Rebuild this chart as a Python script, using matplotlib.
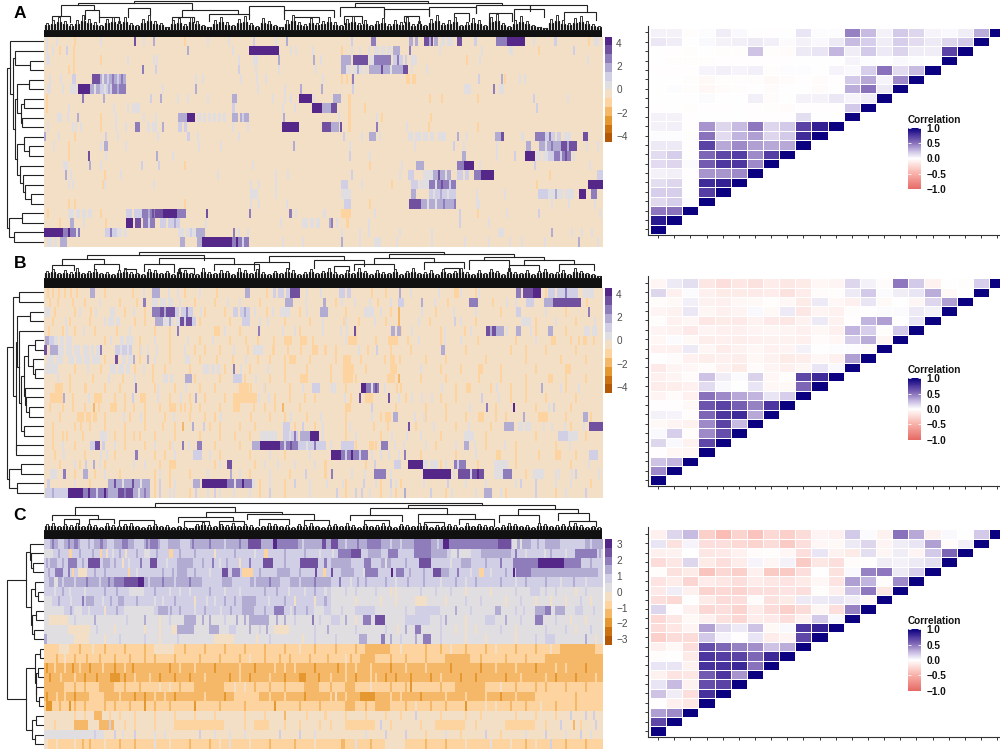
import matplotlib
matplotlib.use("Agg")
import matplotlib.pyplot as plt
from matplotlib.cm import ScalarMappable
from matplotlib.colors import BoundaryNorm, LinearSegmentedColormap, ListedColormap, Normalize
import numpy as np

plt.rcParams['font.family'] = ['Liberation Sans', 'DejaVu Sans']

W, H = 1000, 751
N_COLS = 558
N_ROWS = 22

# heatmap levels: 0 is the beige bin just under zero, 1..6 purple, -1..-5 orange
heat_colors = ['#b35806', '#cc7213', '#e59730', '#f5b868', '#fdd3a0', '#f3dec6',
               '#e0dee0', '#d0cfe6', '#b2abd2', '#8f7dbb', '#70509f', '#542788']

A_rows = [
    "2:1 12:1 30:-1 56:1 90:5 99:1 109:3 140:-1 163:1 184:1 209:2 231:1 242:3 306:2 326-331:4 364-373:3 379-388:5 389-393:3 396-408:1 412-417:5 429-432:2 451-462:4 462-480:6 488:1 509-512:2 543:-1 549-554:1 368:0 384:3 400:0",
    "2:1 8:1 15:-1 22:2 29:-1 143:3 188:1 205-235:6 246:1 251:1 268:1 296:-1 306:1 314:1 323:1 329-346:1 348-355:3 364:4 394:1 436:1 464-468:1 493:-1 528:2 334:0 340:0",
    "2-6:1 29:-1 56:-1 83:1 109:1 112:1 194:1 209-214:1 234:3 269:3 276:1 296-306:3 308-323:5 324-329:1 329-346:4 348-362:2 366-372:1 421:-1 434:1 542-544:1 352:4 358:0",
    "24:-1 29:-1 98:4 111:2 194:2 211:1 234-236:1 271:1 296-301:3 301-306:1 308-322:1 324-351:3 351-358:3 358-363:5 366:1 381:1 312:3 318:0 336:5 345:1",
    "5-7:1 16:1 28-32:2 48-56:5 56-82:3 151:1 158:1 196:1 212:1 221:1 278:1 296:-1 301:-1 306:-1 307:4 361-365:-1 367-371:-1 433:2 456:3 459:-1 474:1 479:1 58:1 63:2 68:4 73:2 77:4",
    "3-7:1 18:1 26-33:1 34-46:6 46-56:3 56-68:2 68-82:4 118:1 151:3 213:1 240:1 256:3 277:3 307:2 419-426:1 448:4 454-459:1 50:1 60:1 64:3 73:3",
    "2:-1 38:4 59:3 106:2 116:3 133:1 143:1 163:1 188-193:3 228:1 240:1 246:1 255-268:6 269:1 288-296:3 303-306:-1 384:-1 396:-1 432:-1 488:2 522:1",
    "2:-1 24:1 69:1 83:1 88-96:1 188-191:2 238:1 250:1 268-278:6 278-286:3 286-292:5 303-306:-1 319:-1 491:2",
    "13-18:1 23:1 33:3 56:-1 71:1 99:1 111:1 134-143:3 143-151:6 153-182:1 188-205:3 239-241:3 293-295:1 303-306:-1 331:1 336:-1 385:-1 157:0 162:0 167:0 172:0 177:0 194:0 198:2",
    "3:1 28:1 31:1 36:1 56:-1 71:1 81:1 91-96:4 103-113:1 118:3 134-143:2 188:1 203:1 238-255:6 278-286:5 286-294:3 295:5 303-306:-1 331:4 361:1 383:-1 432:-1 106:0 138:0",
    "0:3 14:1 30:-1 61:2 73:1 113:1 143-146:2 153:1 194-196:1 298-300:2 316:1 324-331:3 334:1 363-389:1 393-401:1 412:3 421:1 450-456:3 456-459:5 476-479:1 490-500:4 500-516:2 519-526:1 538-543:5 368:0 376:0 383:0 504:4 510:0",
    "9:1 24:-1 56:1 60-64:3 81:1 154:1 176:1 249:3 304:1 369:1 408:2 418:1 451:1 481-486:3 494-516:3 516-532:5 541:1 552:1 500:1 506:4 522:3",
    "24:-1 44:5 61:1 112:3 128:1 304:2 324:1 417-421:3 451:1 469:2 480-490:6 491-503:1 503-509:2 509-526:4 528:1 496:0 515:2 520:5",
    "19-24:1 45:3 56:1 97:2 114:2 140:-1 208:1 324:-1 356:1 371-379:3 412-419:4 419-429:6 434:1 489:2 544:1",
    "21:3 26:1 60:-1 76:1 173:1 231:1 243:1 306:2 354:1 363-369:2 378-388:1 388-406:3 412-424:2 429-436:4 436-449:6 504:-1 552-558:2 393:5 400:1 418:0",
    "24:1 28:1 58:-1 60:1 109:1 206:1 214:1 231:1 296-303:2 316:1 346:-1 366-373:2 374-384:1 384-411:4 491:-1 543-558:6 390:1 396:5 404:2",
    "206-214:1 231:1 296-306:1 366-371:3 384-411:2 431:1 459:1 493-503:2 503-529:1 534-541:6 546-552:4 388:1 395:3 402:1 510:3 518:0",
    "24:-1 30:-1 140:-1 206:1 214:1 242:1 299-306:2 324:-1 364-376:5 376-409:3 409:4 431-435:1 506:1 523:1 549:1 382:1 390:1 398:4",
    "3:-1 24-48:1 56:-1 82-98:2 98-111:4 111-119:5 119-133:6 133-142:4 162:5 205:4 245-248:4 251:1 279:1 296-306:-1 329:1 414:2 432:-1 461:1 493:2 554:1 30:0 36:0 42:0 88:0 104:3 108:5",
    "15:-1 26-30:3 39:1 61:-1 82-89:6 91-97:5 99-111:4 116-136:2 161:1 236:1 258-276:1 284:3 286:4 291:1 301-304:-1 323:1 414:2 443:1 104:2 122:0 130:3 264:0 270:0",
    "0-19:6 19-36:4 61-73:2 73-83:1 134-152:1 152-161:3 189:4 194:1 203:1 296:1 314:1 323:1 354:1 386:1 453-459:1 506:3 526:1 536:1 546:1 24:6 32:1 66:4 78:0 140:0 146:2",
    "3-13:1 16-23:3 136-141:3 153-158:3 158-188:6 188-205:4 238:1 258:1 296:3 314:1 329-336:1 351:1 386:1 419:1 443:1 464:1 476:1 499:1 533:3 552:1 8:0 192:6 198:2",
]

# thin light orange columns of panel B, typed apart from the purple blocks
B_orange = [
    "3:-1 8:-1 14:-1 20:-1 26:-1 32:-1 60:-1 88:-1 140:-1 172:-1 222:-1 300:-1 340:-1 430:-1 500:-1 155:1 262:1 365:1 415:1 545:1",
    "5:-1 13:-1 28:-1 40:-1 75:-1 92:-1 150:-1 170:-1 215:-1 290:-1 332:-1 402:-1 447:-1 541:-1 55:1 135:1 195:1 345:1 470:1",
    "10:-1 30:-1 46:-1 80:-1 100:-1 160:-1 180:-1 222:-1 255:-1 300:-1 345:-1 390:-1 455:-1 520:-1 35:1 210:1 262:1 335:1 430:1 500:1",
    "8:-1 25:-1 45:-1 90:-1 100:-1 155:-1 185:-1 240:-1 265:-1 340:-1 384:-1 430:-1 490:-1 530:-1 60:1 215:1 300:1 415:1 510:1",
    "4:-1 18:-1 30:-1 50:-1 72:-1 110:-1 125:-1 170-176:-1 195:-1 255:-1 310:-1 355:-1 395:-1 490:-1 520:-1 22:1 85:1 180:1 250:1 295:1 425:1 485:1",
    "60:-1 95:-1 125:-1 155:-1 185:-1 240-248:-1 268:-1 330:-1 362:-1 395:-1 432:-1 470:-1 525:-1 548:-1 110:1 168:1 300:1 415:1 490:1 533:-1 540:-1",
    "95:-1 125:-1 150:-1 175:-1 228:-1 268-274:-1 290:-1 345:-1 365:-1 420:-1 465:-1 500:-1 530:-1 112:1 140:1 160:-1 243:-1 280:-1 322:-1 480:-1",
    "60:-1 95:-1 125:-1 172:-1 225:-1 245-252:-1 265:-1 315:-1 345-350:-1 400:-1 440:-1 480:-1 540:-1 110:1 155:-1 188:-1 240:-1 290:-1 380:-1 515:-1",
    "30:-1 56:-1 90:-1 120:-1 145:-1 205:-1 240:-1 262:-1 320:-1 345-352:-1 395:-1 455:-1 520-526:-1 108:-1 180:-1 285:-1 415:-1 490:-1",
    "25:-1 48:-1 78:-1 108:-1 150:-1 175:-1 225:-1 258-264:-1 310:-1 342-350:-1 400:-1 455:-1 520:-1 90:1 200:-1 240:-1 285:-1 375:-1 480:-1 540:-1",
    "25:-1 60:-1 75:-1 110:-1 130:-1 170:-1 195-205:-1 220:-1 270:-1 300:-1 355:-1 445:-1 480:-1 520:-1 40:-1 155:-1 245:-1 410:-1 465:-1 515:1",
    "28:-1 50-58:-1 80:-1 96-102:-1 125:-1 160:-1 230:-1 270:-1 305:-1 360:-1 410:-1 465:-1 500:-1 70:-1 145:-1 180:-1 245:-1 260:-1 395:-1 480:-1 530:-1",
    "5:-1 28:-1 54:-1 80:-1 100:-1 125-132:-1 155:-1 175:-1 220:-1 255:-1 300-306:-1 350:-1 400:-1 490:-1 40:-1 115:-1 140:-1 230:-1 380:-1 450:-1 525:-1",
    "15:-1 60:-1 85:-1 100:-1 145:-1 170:-1 225:-1 262:-1 300:-1 340-346:-1 380:-1 420:-1 460:-1 520:-1 120:-1 160:-1 240:-1 335:-1 400:-1 450:-1 545:-1",
    "8:-1 30:-1 60:-1 80:-1 100:-1 118:-1 175:-1 195:-1 250:-1 300:-1 342:-1 410:-1 480:-1 525:-1 45:-1 130:-1 165:-1 210:-1 270:-1 370:-1 445:-1",
    "8:-1 18:-1 38:-1 80:-1 110:-1 130:-1 175:-1 205:-1 300:-1 335:-1 395:-1 440:-1 490:-1 540:-1 22:-1 70:-1 95:-1 155:-1 190:-1 310:1 375:1",
    "8:-1 30:-1 80:-1 100:-1 125:-1 170:-1 195:-1 310:-1 330:-1 390:-1 440:-1 470:-1 510:-1 70:1 110:1 128:1 260:1 285:1 380:1 410:1",
    "10:-1 40:-1 70:-1 110:-1 120:-1 175:-1 205:-1 240:-1 335:-1 375:-1 410:-1 470:-1 510-516:-1 530:-1 62:1 130:1 165:1 225:1 265:1 335:1 430:1",
    "15:-1 35:-1 60:-1 115:-1 125-132:-1 170:-1 210:-1 280:-1 320:-1 395:-1 432:-1 470:-1 525:-1 30:1 55:1 100:1 175:1 220:1 250:1 270:1 400:1",
    "30:-1 50:-1 75:-1 110:-1 125:-1 145:-1 205:-1 245:-1 280:-1 345:-1 395:-1 480:-1 530:-1 20:1 60:1 115:1 195:1 225:1 345:1 510:1 530:2",
    "45:-1 110:-1 125:-1 215:-1 240:-1 300:-1 335:-1 355:-1 470:-1 510:-1 545:-1 30:1 115:2 130:1 225:1 250:2 265:1 330:1 345:2 420:1 470:1 490:2 525:1",
    "110:-1 125:-1 145:-1 215:-1 240:-1 300:-1 335:-1 350:-1 400:-1 460:-1 510:-1 115:2 125:1 170:2 175:1 205:1 225:2 265:1 310:2 345:1 385:2 430:1 455:1 490:2 520:1",
]

B_rows = [
    "46-51:3 99:1 108-116:3 124:1 133:1 201-206:3 229-246:2 246-256:5 276:1 294-306:2 326:-1 354:3 393:1 409-414:-1 433:1 471-476:4 478-488:5 488-496:6 503-533:2 538-549:1 232:0 240:0 300:0 510:0 520:4",
    "99-102:4 108-129:1 183:1 241-249:3 261:1 279:3 296:1 309:1 324:1 353-359:2 376:3 389:1 424-433:4 461:1 481-489:2 499-508:3 508-536:5 114:0 122:0",
    "1-6:1 51:1 66-71:1 89:1 108-116:4 116-131:5 131-149:2 156:1 189-206:2 228:1 236-246:1 276-283:3 319-329:1 353:-2 376:1 408:1 471-476:2 543:4 120:3 135:0 142:4 194:0 200:3",
    "21:1 64-76:1 111-119:3 119-136:1 136-148:5 148-152:2 198-206:2 223:1 278:1 298:-1 313:-1 329:1 353:-2 373:1 409:2 476-486:1 549:1 70:0 125:3 130:0 140:2",
    "39:1 133:4 214:4 238:1 278:1 301:1 309:5 346-356:3 366:1 399:1 419:-1 441-451:5 451-459:3 461:1 471-476:3 503-508:3 539-552:1 350:0 445:3 545:0",
    "1-5:3 5-10:2 10-28:1 66:1 76-89:1 143:1 201:-1 213:-1 229:-1 256-263:-1 303-312:-1 343-353:-1 373:1 399:1 506-511:-1 538:-1 14:0 20:0 80:0",
    "0-3:5 6-14:3 14-36:1 39-56:1 56:4 71-88:2 96:1 103:1 189:1 203:-1 209-219:1 229:-1 256:-1 313:1 331:2 396-400:3 20:0 28:0 45:0 50:0 76:1 83:1",
    "3-19:1 24-56:1 71-74:5 78-88:1 89:3 103:3 141-146:1 201:1 213:-1 298-306:-1 339:-1 354:-1 10:0 30:0 38:0 46:0 82:0",
    "1-14:1 43:1 66-86:1 99:1 159-176:1 189:4 196:1 223:1 298-309:-1 375:1 433-438:-1 72:0 80:0 165:0 171:0",
    "13:1 64:1 119-129:1 141-148:3 189-198:2 211:1 256:-1 298-308:-1 353:-2 433:-1 503-508:-1 124:0",
    "11-19:-1 41:-1 91:4 113:1 141:1 206:-1 219:1 258:1 268-276:2 286-291:1 316-321:6 321-334:4 339:1 351:-1 396:1 421-426:-1 451:1 496:3 533:1 326:1 330:5",
    "6-19:-1 19:3 44:1 88:2 113:1 136:1 151:3 189-213:-1 214:1 224:1 299:1 314:5 320-328:-1 343:5 353:1 366:1 376:1 386:1 436:2 453:1",
    "18:-1 49:-2 66-73:-1 89:-1 136:-1 146:-1 189-196:-1 209:-1 238:-2 326:2 424:1 441:4 468:6 503:1 508:2",
    "33-53:-1 79:1 96:1 129:1 176:1 206:-1 246:1 276:1 326:1 348-353:3 369:1 378:1 433-439:-1 478:3 493-503:-1 538-543:3 40:0 47:0",
    "36:-1 138:-2 148:3 159:2 239-246:2 258:2 278:1 304:1 328:-1 363:5 388:1 423:1 459-469:3 473-486:1 498:1 506:1 519:1 538:1 544-558:5 478:0",
    "56-63:1 89:-1 216-233:1 239-254:2 256-266:3 266-275:6 278:1 346:1 361:1 419-429:1 513-523:2 523-533:1 245:1 250:4",
    "18:1 46-51:2 51-56:5 58-61:2 138:4 144:1 153-158:4 208-216:3 216-236:6 236-254:4 254-281:2 296-309:2 324-329:-1 336-343:4 349:1 358:1 419-424:3 429:1 459:1 524:1 240:2 246:5 262:1 270:4",
    "19:1 56:1 91-94:4 149-158:2 286-296:6 296-323:4 326:1 343:1 353:1 359:4 451-456:-1 493:-1 544-553:2 300:2 306:6 314:2",
    "41:2 49:3 89:1 183-188:5 233:1 329:2 349-356:2 363-378:6 378-393:1 409-421:4 449-463:1 543:1 383:0 412:2",
    "6-13:1 19-22:4 39-44:3 163:1 186:3 261:2 286:4 306:1 319:1 329-341:4 378-406:6 413-439:5 449-458:1 458-467:4 488-499:1 513:1 526:1 553:1 408:1 425:2 432:6",
    "3-6:2 64-106:3 149-156:3 158-183:6 183-208:4 208-211:1 281:1 297:1 318:2 350:1 378:1 402:2 440:1 475:2 510:1 70:5 78:1 88:5 96:1 190:1 198:6",
    "1-24:2 24-39:6 39-64:4 64-74:3 74-89:5 89-106:3 129:1 151:2 163:1 189:1 291:2 316:2 324:1 359:3 406:1 439-447:3 520:1 540:2 8:3 44:6 52:2 60:6 80:4 94:1 100:4",
]

C_base = [3, 2, 2, 2, 3, 2, 2, 2, 1, 1, 1, -1, -1, -2, -2, -1, -2, -1, 0, 0, 0, -1]
C_rows = [
    "0-6:2 14-20:2 30-34:4 36-50:2 56-59:4 63-70:2 78-84:4 90-100:2 106-114:4 116-124:2 136-146:2 204-217:5 229-233:6 233-254:4 278-281:5 286-293:5 322-336:4 369-386:4 398-404:6 404-466:4 453-466:5 467-472:1 486-500:2 515-540:2 552-558:3",
    "0-9:1 25-28:-1 56:-1 62:0 81:0 100-106:1 125-129:-1 170:0 220-224:-1 293-306:4 306-316:5 323-336:3 343-353:4 369-386:4 386-402:3 406-426:1 436-466:3 499:1 530-540:3 530-552:4",
    "6-13:3 24-33:4 44-56:5 59-66:3 78:0 106-113:5 133-149:3 175:1 195:0 219-229:5 256-274:5 286-306:3 319-326:4 336-346:3 374-386:5 416-426:3 468-493:4 493-519:6 519-536:4",
    "11-19:4 28:-1 34-43:0 84:-1 133-143:3 178-184:5 188-196:4 198-209:-1 233-246:3 271:5 279:-1 296-309:3 319-333:4 346:6 351-359:4 388-396:5 396-404:3 434-439:-1 468:6 471-486:4 486-553:3",
    "0-5:2 10-14:1 70-80:4 80-94:5 94-100:6 158-178:2 188-206:2 236-246:2 286-558:2 294:4 312:3 320:3 340:3 362:3 378:3 410:3 430:3 455:3 480:3 500:3 528:3",
    "25:1 60:3 85-100:1 135:1 180:1 220:3 260:1 290:1 286-558:1 310:2 330:2 350:0 390:2 420:0 470:2 485-495:2 510:2 530:0",
    "0-8:1 38:4 42-50:3 74-80:3 110:1 150:0 162:1 180:3 198-212:3 250:0 286-558:1 310:0 335:0 370-382:0 420:2 460:0 490:0 520:0 545:0",
    "0-20:1 30-38:1 60:0 80-110:1 114-124:3 150:1 198-210:3 230-240:4 250:3 270-280:1 286-558:1 310-330:2 370-395:2 410:3 450-456:3 490-500:3 500-506:4 510-520:3 530-538:2",
    "5-24:0 50:3 60-75:1 140-152:3 165:3 180:2 200:3 205-225:3 240:3 268:4 286-295:2 318-326:4 330-340:5 360-385:2 400:3 440-450:2 490-498:4 510:2 540:0",
    "0-24:1 24-46:0 128-133:0 133-150:3 165-175:3 185-192:2 230-245:0 270:2 296:1 310:2 360:3 370-376:4 410:0 430:0 470:0 500:2 545:2",
    "0-3:3 10-20:1 30-45:0 133:2 136-160:1 170-190:0 200:3 236:1 270:2 314-322:3 336-340:4 370:3 378-386:4 440:0 470:0 500-510:2 540:3",
    "15-25:0 60:-2 100:-2 110-130:0 160:-2 200:-2 220:-2 270:-2 290:-2 320-345:-2 380:-2 420:-2 470:-2 515-550:-2",
    "30:-2 55:-2 85:-2 110:-2 130:-2 175:-2 220:-2 245:-2 265:-2 300:0 315-330:-2 360:-2 400-425:-2 460:-2 500-558:-2",
    "2:-3 10:-1 20:-1 35:-1 45:-3 80:-1 100-118:-2 135:-1 150:-1 195:-1 230:-1 250:-1 292:-3 300:-1 325:-1 360:-1 435:-3 470:-1 520:-1 540:-3",
    "5:-3 30:-1 40:-3 66-76:-3 80:-3 115:-3 145:-3 185:-3 195:-1 225:-1 255-262:-3 274:-3 300:-1 325:-1 340:-3 365:-3 385:-3 415:-3 460:-3 500:-1 530:-3",
    "0-20:-2 40:-2 55-70:-2 115:0 125:0 150-180:-2 200:0 225:-2 260-275:-2 300-310:-2 345:-2 365:-3 410-440:-2 470:-2 500:-2 540:-2",
    "2:-3 20:-1 45-60:-1 90:-3 110:-1 130:-3 190-215:-1 240:-1 290:0 300:-1 315-330:-3 345:-1 400:-1 440:-1 470:-1 490-558:-1",
    "2-8:-3 15:-2 30:-2 60:-2 85:-2 110:-2 150:-3 200:-2 255:-2 300-310:-2 330-345:-2 370:0 400:-2 450:0 480:-2 510:-2",
    "50:-2 52-58:-2 30:-1 65:-1 110:-1 150:-1 200:-1 240:-2 280:-1 300:-1 340:-1 370:2 420:-1 470:-1 510:-1 540:2",
    "10:-1 30-44:-2 55-70:-2 90:-1 130-180:-1 210-225:-1 255:-1 300-330:-1 345:-1 390-420:-1 460-490:-1 528:-2 550:2",
    "0-60:1 70:2 90:2 110:1 140:0 170:1 200:1 255:2 300:0 320:1 360:2 400:1 440:2 480:1 520:1 545:1",
    "0-4:0 30:0 45:-2 60:0 90:-2 110:1 165:-2 185:1 205:0 250:-2 296-300:-2 310:1 340-360:0 380:-2 420:0 445:1 490:0 505:2 520:-2",
]

# finer stripes laid over the C rows
C_stripes = [
    "8:4 24:4 44:3 72:3 88:3 102:4 128:3 148:4 165:4 180:2 195:4 220:3 258:2 300:2 312:4 345:2 355:2 362:3 392:2 475:1 492:3 510:3 545:2",
    "14:3 35:3 48:3 68:1 75:3 92:3 112:3 135:3 150:3 190:3 210:1 240:3 260:3 275:1 287:1 412:3 470:4 480:1 505:3 520:1 554:3",
    "2:3 18:3 38:3 70:3 84:1 96:4 122:1 158:3 168:4 182:3 205:4 240:3 280:4 340:1 360:3 405:1 440:3 455:4 545:3",
    "4:3 24:4 50:3 60:3 92:1 118:3 128:3 150:3 165:1 215:3 255:3 286:5 318:1 364:3 378:3 412:4 425:1 445:1 460:3",
    "18:2 30:2 42:4 55:2 64:4 104:2 118:4 130:2 145:4 210:2 225:4 255:2 270:4 282:3 305:1 350:1 395:1 420:1 470:1 515:1 540:1",
    "10:1 18:3 40:1 72:3 110:3 125:1 145:1 165:3 195:1 232:3 244:1 270:3 280:1 300:2 345:0 375:2 405:2 445:0 500:2 540:2",
    "14:3 26:1 58:1 66:3 92:3 118:1 130:3 170:1 190:3 224:1 240:3 270:0 280:3 300:1 350:0 400:0 435:2 475:2 505:0 535:2",
    "26:3 44:1 72:3 126:3 135:3 160:3 176:1 186:3 220:3 246:1 262:3 296:2 345:1 360:2 425:2 470:2 478:2 548:2",
    "30:2 42:1 82:2 92:1 100:3 115:0 125:2 158:3 175:1 192:3 232:3 250:2 275:2 300:3 310:0 350:1 395:2 420:0 460:3 475:2 525:0",
    "52:2 70:0 85:1 100:0 115:0 205:3 215:2 222:3 255:1 282:3 340:2 352:0 395:2 420:0 455:2 520:2 530:0",
    "60:0 75:2 100:2 115:0 200:1 212:0 225:2 258:0 290:2 345:3 355:2 395:2 420:0 490:2 520:1 550:0",
    "35:-2 48:0 80:-2 140:-2 180:-2 240:-2 255:0 310:-2 355:0 395:-2 405:0 440:-2 450:0 490:-2 505:0",
    "12:-2 20:0 42:-2 70:-2 100:-2 155:-2 195:-2 205:0 235:-2 282:-2 305:-2 345:-2 380:-2 435:-2 480:-2",
    "28:-3 58:-1 70:-3 88:-3 125:-3 170:-3 210:-3 240:-1 270:-3 310:-1 345:-3 380:-1 405:-3 450:-1 490:-3 510:-1",
    "16:-1 52:-3 90:-1 105:-1 130:-3 160:-1 205:-3 240:-3 285:-1 310:-3 330:-1 350:-3 395:-1 430:-3 475:-1 510:-3 550:-1",
    "30:-2 80:-2 95:-2 135:-2 190:0 210:-2 240:-2 285:-2 325:0 360:-2 395:-2 455:0 490:-2 520:-2",
    "12:-1 30:-3 75:-1 100:-3 120:-1 160:-1 180:-3 225:-1 260:-3 285:-1 355:-1 375:-3 420:-1 455:-3 530:-2",
    "25:-3 40:-2 70:-2 100:-3 125:-2 175:-2 230:-3 275:-2 320:-2 360:-2 385:-2 420:-3 440:0 465:-2 495:0 530:-2",
    "40:-1 75:-1 90:-1 130:-1 170:-1 220:-1 262:-1 320:-1 355:-1 395:-1 435:-1 490:-1 525:2 548:2",
    "65:2 80:-1 110:-1 200:-1 240:-1 275:-1 285:-1 335:2 375:-1 430:-1 500:-1 515:2 535:-1",
    "20:1 50:2 78:1 120:1 155:2 185:1 235:2 270:1 340:2 380:-1 415:-1 455:-1 500:2 535:2",
    "12:0 38:-2 75:-2 125:0 145:-2 175:0 225:-2 270:0 325:-2 400:-2 465:0 480:-2 540:-2",
]

# linkage of the rows: (left, right, height), new nodes numbered after the leaves
A_row_merges = [(2, 3, 14), (1, 22, 29), (4, 5, 15), (6, 7, 20), (8, 9, 22), (25, 26, 23), (24, 27, 27),
                (11, 12, 15), (10, 29, 20), (16, 17, 13), (15, 31, 19), (14, 32, 21), (13, 33, 24), (30, 34, 27),
                (28, 35, 29), (23, 36, 31), (0, 37, 34), (18, 19, 22), (20, 21, 30), (39, 40, 35), (38, 41, 37)]
B_row_merges = [(0, 1, 25), (2, 3, 14), (5, 6, 9), (8, 9, 9), (7, 25, 11), (24, 26, 16), (12, 13, 15),
                (11, 28, 18), (10, 29, 19), (27, 30, 20), (14, 15, 20), (31, 32, 23), (4, 33, 25), (23, 34, 27),
                (16, 17, 28), (35, 36, 28.5), (22, 37, 31), (18, 19, 23), (20, 21, 27), (39, 40, 35), (38, 41, 37)]
C_row_merges = [(2, 3, 11), (1, 22, 13), (0, 23, 14), (5, 6, 6), (4, 25, 9), (7, 8, 8), (9, 10, 10),
                (27, 28, 12), (26, 29, 13), (24, 30, 18), (11, 12, 4), (13, 14, 6), (16, 17, 5), (15, 34, 8),
                (33, 35, 8.5), (32, 36, 9), (18, 19, 8), (20, 21, 9), (38, 39, 12), (37, 40, 18), (31, 41, 37)]

# column tree: (left col, right col, height, left leg end, right leg end)
A_col_nodes = [(90, 384, 36, 34, 34), (34, 148, 34, 32, 27), (17, 50, 32, 21, 27), (8, 26, 21, 15, 15), (41, 55, 27, 18, 20),
               (55, 75, 20, 15, 14), (84, 106, 29, 20, 22), (138, 194, 27, 20, 23), (128, 150, 20, 14, 15), (165, 205, 23, 16, 18),
               (205, 240, 31, 22, 24), (240, 290, 27, 18, 20), (311, 458, 34, 30, 32), (296, 340, 30, 21, 22), (340, 385, 28, 20, 21),
               (385, 432, 30, 22, 24), (432, 486, 32, 24, 28), (486, 543, 32, 26, 25), (470, 500, 28, 16, 20), (520, 552, 25, 18, 17),
               (300, 318, 21, 13, 14), (360, 375, 21, 15, 14), (410, 425, 24, 14, 16), (445, 468, 24, 15, 16), (250, 275, 20, 14, 15)]
B_col_nodes = [(95, 400, 36, 33, 34), (43, 160, 33, 30, 28), (18, 60, 29, 23, 24), (8, 30, 23, 17, 18), (50, 75, 24, 18, 19),
               (115, 190, 30, 24, 24), (100, 130, 24, 17, 16), (170, 215, 24, 18, 17), (225, 300, 32, 26, 28), (210, 245, 26, 18, 19),
               (270, 320, 28, 20, 22), (345, 470, 34, 30, 31), (330, 390, 30, 24, 26), (310, 350, 24, 18, 19), (380, 420, 26, 19, 20),
               (440, 500, 31, 28, 28), (425, 465, 28, 19, 22), (480, 530, 28, 23, 24), (465, 495, 23, 17, 18), (515, 550, 24, 17, 18),
               (290, 305, 22, 16, 17), (400, 415, 20, 14, 15), (80, 92, 19, 14, 14), (135, 150, 20, 15, 14)]
C_col_nodes = [(111, 438, 36, 32, 34), (31, 191, 32, 24, 27), (8, 54, 24, 19, 20), (20, 35, 20, 15, 15), (45, 70, 20, 15, 16),
               (75, 110, 19, 14, 14), (162, 238, 27, 22, 25), (134, 189, 22, 17, 18), (140, 165, 18, 13, 14), (175, 200, 18, 13, 13),
               (203, 270, 25, 20, 19), (215, 245, 20, 14, 15), (260, 285, 19, 13, 14), (364, 511, 34, 31, 30), (326, 403, 31, 24, 25),
               (306, 358, 24, 19, 18), (320, 345, 19, 14, 13), (374, 431, 25, 17, 20), (415, 450, 20, 15, 13), (474, 534, 30, 24, 26),
               (455, 495, 24, 17, 17), (514, 545, 26, 19, 18), (380, 400, 17, 12, 13), (525, 552, 18, 14, 13)]

# height of the dense leaves, left to right
A_leaf_tops = [14, 17, 20, 16, 13, 17, 22, 18, 15, 12, 18, 20, 16, 20, 14, 12, 18, 22, 16, 14, 10, 17, 19, 13, 20, 16, 12, 10, 17, 20, 15, 12,
               18, 21, 14, 11, 19, 16, 12, 10, 17, 22, 15, 13, 19, 14, 16, 20, 15, 12, 18, 21, 14, 17, 12, 16, 19, 13, 17, 15, 20, 13, 16, 12,
               18, 22, 14, 17, 20, 12, 15, 19, 17, 12, 20, 23, 14, 11, 17, 21, 16, 12, 10, 9, 18, 22, 17, 14, 19, 21, 16, 13, 11]
B_leaf_tops = [17, 19, 15, 18, 16, 20, 15, 17, 19, 15, 16, 14, 18, 20, 16, 15, 14, 19, 18, 15, 17, 14, 19, 18, 15, 14, 20, 16, 15, 18, 17, 14,
               20, 18, 15, 19, 16, 14, 17, 15, 20, 18, 14, 16, 19, 15, 17, 20, 16, 14, 18, 15, 20, 17, 14, 18, 16, 15, 19, 14, 17, 20, 15, 16,
               18, 14, 19, 15, 17, 20, 16, 14, 18, 15, 19, 17, 14, 20, 16, 15, 18, 14, 17, 19, 15, 16, 18, 14, 20, 17, 15, 14, 12]
C_leaf_tops = [15, 16, 13, 15, 14, 16, 13, 15, 14, 12, 16, 14, 13, 15, 16, 13, 12, 14, 15, 13, 14, 12, 13, 12, 11, 15, 17, 14, 13, 15, 14, 16,
               13, 15, 14, 12, 13, 16, 15, 13, 14, 12, 15, 14, 16, 13, 12, 14, 15, 13, 16, 14, 12, 15, 13, 14, 16, 13, 12, 15, 14, 13, 16, 15,
               12, 14, 13, 15, 14, 12, 16, 13, 15, 14, 13, 12, 14, 16, 15, 13, 14, 12, 16, 15, 13, 14, 15, 13, 16, 14, 12, 13, 12]

A_corr = [
    [.05, .05, -.02, .01, .07, .03, 0, -.01, 0, .1, .01, .01, .45, .25, .05, .2, .15, .04, .03, .07, .3, 1],
    [.09, .07, 0, .03, .05, .06, .08, .06, .02, .05, .03, .08, .25, .18, .07, .18, .13, .08, .15, .2, 1],
    [0, -.01, -.02, 0, -.02, -.02, .22, -.02, -.03, .08, .1, .27, .07, .2, .08, .16, .07, .07, .7, 1],
    [0, -.02, -.02, -.02, -.01, -.01, -.01, -.01, -.01, 0, 0, 0, .04, .01, 0, .03, .01, 0, 1],
    [-.01, -.01, -.01, .04, .06, .04, .06, -.02, .01, .01, 0, .04, .03, .18, .5, .13, .25, 1],
    [0, 0, -.02, -.04, -.02, -.02, -.02, -.04, -.03, -.01, -.03, -.01, .2, .32, .04, .42, 1],
    [0, .01, -.02, -.05, -.03, -.02, 0, -.03, 0, 0, -.03, 0, .3, .5, .08, 1],
    [0, 0, 0, .02, 0, 0, .06, -.03, 0, .05, .05, .09, .04, .07, 1],
    [-.01, 0, -.02, -.01, -.01, 0, -.01, -.02, -.03, -.01, -.01, -.01, .2, 1],
    [.05, .05, -.01, 0, 0, 0, -.01, -.01, -.01, .12, 0, 0, 1],
    [.05, .06, -.01, .38, .15, .25, .48, .15, .2, .7, .85, 1],
    [.01, .01, -.02, .5, .13, .28, .35, .15, .2, .8, 1],
    [.08, .08, -.01, .7, .32, .42, .35, .32, .32, 1],
    [.13, .18, 0, .55, .68, .72, .42, .72, 1],
    [.13, .15, .02, .6, .75, .75, .42, 1],
    [.05, .06, -.01, .38, .38, .42, 1],
    [.12, .15, -.01, .8, .85, 1],
    [.18, .18, 0, .72, 1],
    [.14, .18, .01, 1],
    [.48, .5, 1],
    [.88, 1],
    [1],
]
B_corr = [
    [-.06, .08, .12, -.15, -.2, -.15, -.18, -.12, -.15, -.13, -.05, -.07, .15, .05, -.03, .48, .2, -.08, 0, -.02, .18, 1],
    [.15, -.1, .02, -.1, -.13, -.13, -.14, -.12, -.18, -.12, -.03, -.02, .08, .2, .02, .07, .1, .3, -.04, 0, 1],
    [-.03, -.04, .06, -.08, -.1, -.05, -.04, -.02, -.05, -.13, .08, -.05, -.1, .1, -.04, 0, -.06, .15, .35, 1],
    [-.07, -.08, .09, -.06, -.1, -.07, .03, -.04, .08, -.15, -.07, -.09, -.02, 0, .02, .02, .08, .05, 1],
    [-.02, -.09, -.06, -.16, -.13, -.14, -.08, -.14, -.15, -.08, .08, -.08, -.01, .28, .35, 0, .1, 1],
    [-.07, -.08, -.14, -.07, -.1, -.1, -.07, -.06, -.07, -.1, -.05, -.1, .28, .18, -.02, .2, 1],
    [-.05, .02, -.04, -.11, -.1, -.11, -.1, -.08, -.08, -.1, -.03, -.05, .18, .3, -.06, 1],
    [-.09, -.1, .08, -.06, -.12, -.08, -.05, -.09, -.07, .05, 0, .01, .01, -.03, 1],
    [0, -.03, -.09, -.11, -.1, -.11, -.05, -.08, -.13, -.11, -.05, -.1, .35, 1],
    [-.14, -.07, -.05, -.03, -.08, -.13, -.03, -.07, -.1, -.06, .1, .03, 1],
    [-.1, -.07, -.03, .22, .07, .02, .17, -.05, -.02, .68, .8, 1],
    [-.12, -.11, -.09, .13, .03, 0, .1, -.05, -.04, .55, 1],
    [-.07, -.03, -.09, .5, .42, .32, .28, .1, .18, 1],
    [-.01, -.01, -.04, .62, .7, .58, .45, .75, 1],
    [.05, .04, -.02, .55, .75, .8, .32, 1],
    [-.04, -.07, -.08, .42, .7, .25, 1],
    [.03, .18, -.02, .42, .65, 1],
    [.15, .03, -.08, .68, 1],
    [-.01, -.05, -.06, 1],
    [.22, .28, 1],
    [.42, 1],
    [1],
]
C_corr = [
    [-.1, .15, .25, -.3, -.42, -.28, -.38, -.24, -.3, -.22, -.07, -.1, .2, .02, -.08, .5, .32, -.08, .03, 0, .2, 1],
    [.1, -.18, .04, -.2, -.2, -.24, -.28, -.22, -.33, -.2, -.05, -.04, .08, .15, -.07, .07, .1, .35, -.03, .06, 1],
    [-.1, -.08, 0, -.15, -.14, -.09, -.03, -.02, -.05, -.2, .1, -.08, -.13, .12, -.06, .07, -.07, .2, .55, 1],
    [-.22, -.15, .15, -.13, -.2, -.12, .04, -.06, .05, -.33, -.15, -.2, -.03, -.02, .07, .05, .08, .12, 1],
    [-.02, -.18, -.13, -.37, -.25, -.3, -.1, -.33, -.33, -.2, 0, -.18, .03, .45, .48, .08, .18, 1],
    [-.17, -.12, -.26, -.12, -.15, -.2, -.12, -.15, -.17, -.13, -.05, -.17, .35, .28, -.02, .42, 1],
    [-.14, .07, -.1, -.28, -.24, -.27, -.2, -.2, -.17, -.2, -.02, -.1, .22, .48, -.15, 1],
    [-.2, -.24, 0, -.13, -.22, -.2, -.03, -.18, -.13, .08, .08, .1, .07, -.05, 1],
    [.15, -.01, -.1, -.25, -.2, -.27, -.12, -.22, -.3, -.22, -.06, -.2, .45, 1],
    [-.24, -.15, -.04, -.1, -.18, -.25, -.12, -.14, -.2, -.1, .2, .03, 1],
    [-.22, -.16, -.07, .33, .14, .08, .22, -.04, .03, .75, .85, 1],
    [-.3, -.22, -.22, .2, .04, -.01, .1, -.12, -.07, .68, 1],
    [-.1, -.04, -.2, .65, .55, .45, .4, .22, .3, 1],
    [-.02, 0, -.13, .75, .72, .7, .55, .82, 1],
    [.1, .1, -.08, .78, .78, .82, .5, 1],
    [-.08, -.17, -.15, .6, .75, .38, 1],
    [.1, .25, -.08, .65, .7, 1],
    [.22, .07, -.2, .78, 1],
    [-.01, -.1, -.15, 1],
    [.35, .42, 1],
    [.68, 1],
    [1],
]

corr_ticks = [-1, -.5, 0, .5, 1]
corr_tick_labels = ['\u22121.0', '\u22120.5', '0.0', '0.5', '1.0']
corr_cmap = LinearSegmentedColormap.from_list(
    'corr', [(0, '#e66a66'), (.25, '#f8b0a8'), (.5, '#ffffff'), (.625, '#c8bce2'),
             (.75, '#8a72bc'), (.875, '#4f38a0'), (1, '#0a0080')])


def px_axes(fig, x0, y0, x1, y1):
    return fig.add_axes([x0 / W, 1 - y1 / H, (x1 - x0) / W, (y1 - y0) / H])


def stamp(mat, rows):
    for r, row in enumerate(rows):
        for token in row.split():
            span, level = token.rsplit(':', 1)
            if '-' in span:
                a, b = span.split('-')
            else:
                a, b = span, int(span) + 2
            mat[r, int(a):int(b)] = int(level)


def left_tree(ax, merges):
    pos = {i: (i + .5, 0) for i in range(N_ROWS)}
    for k, (a, b, h) in enumerate(merges):
        ya, ha = pos[a]
        yb, hb = pos[b]
        ax.plot([ha, h, h, hb], [ya, ya, yb, yb], color='#222222', lw=.8, solid_joinstyle='miter')
        pos[N_ROWS + k] = ((ya + yb) / 2, h)
    ax.set_xlim(44, 0)
    ax.set_ylim(N_ROWS, 0)
    ax.axis('off')


def top_tree(ax, nodes, tops, base):
    for c0, c1, h, h0, h1 in nodes:
        ax.plot([c0, c0, c1, c1], [h0, h, h, h1], color='#222222', lw=.8, solid_joinstyle='miter')
    ax.bar(N_COLS / 2, base, width=N_COLS, color='#111111')
    step = N_COLS / len(tops)
    for i, t in enumerate(tops):
        x = (i + .5) * step
        mid = (t + base) / 2 + 1
        ax.plot([x - 2.2, x - 2.2, x - .7, x - .7], [base, mid, mid, base], color='#1a1a1a', lw=.85)
        ax.plot([x + .7, x + .7, x + 2.2, x + 2.2], [base, mid, mid, base], color='#1a1a1a', lw=.85)
        ax.plot([x - 1.4, x - 1.4, x + 1.4, x + 1.4], [mid, t, t, mid], color='#333333', lw=.7)
    ax.set_xlim(0, N_COLS)
    ax.set_ylim(0, 37)
    ax.axis('off')


def heat_panel(fig, base, rows, width, ticks, merges, nodes, tops, top_base, y0):
    mat = np.asarray(base, dtype=float).reshape(-1, 1) * np.ones((N_ROWS, N_COLS))
    for layer in rows:
        stamp(mat, layer)
    values = (mat - .5) * width
    cmap = ListedColormap(heat_colors)
    norm = BoundaryNorm(np.arange(-6, 7) * width, cmap.N)

    ax = px_axes(fig, 44, y0, 602, y0 + 210)
    im = ax.imshow(values, cmap=cmap, norm=norm, aspect='auto', interpolation='nearest')
    ax.axis('off')

    cax = px_axes(fig, 605, y0, 612, y0 + 105.5)
    cb = fig.colorbar(im, cax=cax, ticks=ticks, spacing='proportional', drawedges=False)
    cb.outline.set_visible(False)
    cb.ax.minorticks_off()
    cb.ax.tick_params(length=0, pad=3, labelsize=7.2, labelcolor='#4d4d4d')
    cb.ax.set_yticklabels([str(t).replace('-', '\u2212') for t in ticks])

    left_tree(px_axes(fig, 0, y0, 44, y0 + 210), merges)
    top_tree(px_axes(fig, 44, y0 - 37, 602, y0), nodes, tops, top_base)


def corr_panel(fig, values, y0):
    n = len(values)
    mat = np.full((n, n), np.nan)
    for r, row in enumerate(values):
        mat[r, :len(row)] = row
    ax = px_axes(fig, 648.3, y0 - 2, 1006, y0 + 207.5)
    ax.pcolormesh(np.ma.masked_invalid(mat), cmap=corr_cmap, vmin=-1, vmax=1, edgecolors='white', linewidth=.6)
    ax.set_xlim(-.105, 22.05)
    ax.set_ylim(22.12, -.21)
    ax.set_xticks(np.arange(n) + .5)
    ax.set_yticks(np.arange(n) + .5)
    ax.tick_params(length=2.2, width=.7, labelleft=False, labelbottom=False, color='#333333')
    ax.spines['top'].set_visible(False)
    ax.spines['right'].set_visible(False)
    ax.spines['left'].set_color('#333333')
    ax.spines['bottom'].set_color('#333333')

    cax = px_axes(fig, 908, y0 + 100, 921, y0 + 161.5)
    sm = ScalarMappable(Normalize(-1, 1), corr_cmap)
    cb = fig.colorbar(sm, cax=cax, ticks=corr_ticks)
    cb.outline.set_visible(False)
    cb.ax.tick_params(left=True, right=True, direction='in', length=2.5, width=.6, color='white',
                      pad=4, labelsize=7.2)
    cb.ax.set_yticklabels(corr_tick_labels, fontweight='bold', color='#111111')
    fig.text(908 / W, 1 - (y0 + 92) / H, 'Correlation', fontsize=7.2, fontweight='bold', va='center', color='#111111')


fig = plt.figure(figsize=(W / 100, H / 100), dpi=100)

heat_panel(fig, [0] * N_ROWS, [A_rows], .75, [-4, -2, 0, 2, 4], A_row_merges, A_col_nodes, A_leaf_tops, 7, 36.7)
heat_panel(fig, [0] * N_ROWS, [B_orange, B_rows], .75, [-4, -2, 0, 2, 4], B_row_merges, B_col_nodes, B_leaf_tops, 10, 287.7)
heat_panel(fig, C_base, [C_rows, C_stripes], .555, [-3, -2, -1, 0, 1, 2, 3], C_row_merges, C_col_nodes, C_leaf_tops, 9, 539)

corr_panel(fig, A_corr, 27.7)
corr_panel(fig, B_corr, 278.3)
corr_panel(fig, C_corr, 529.3)

for label, y in zip(['A', 'B', 'C'], [13, 264, 515]):
    fig.text(20 / W, 1 - y / H, label, fontsize=12.5, fontweight='bold', ha='center', va='center')

fig.savefig('out.png', dpi=100)
